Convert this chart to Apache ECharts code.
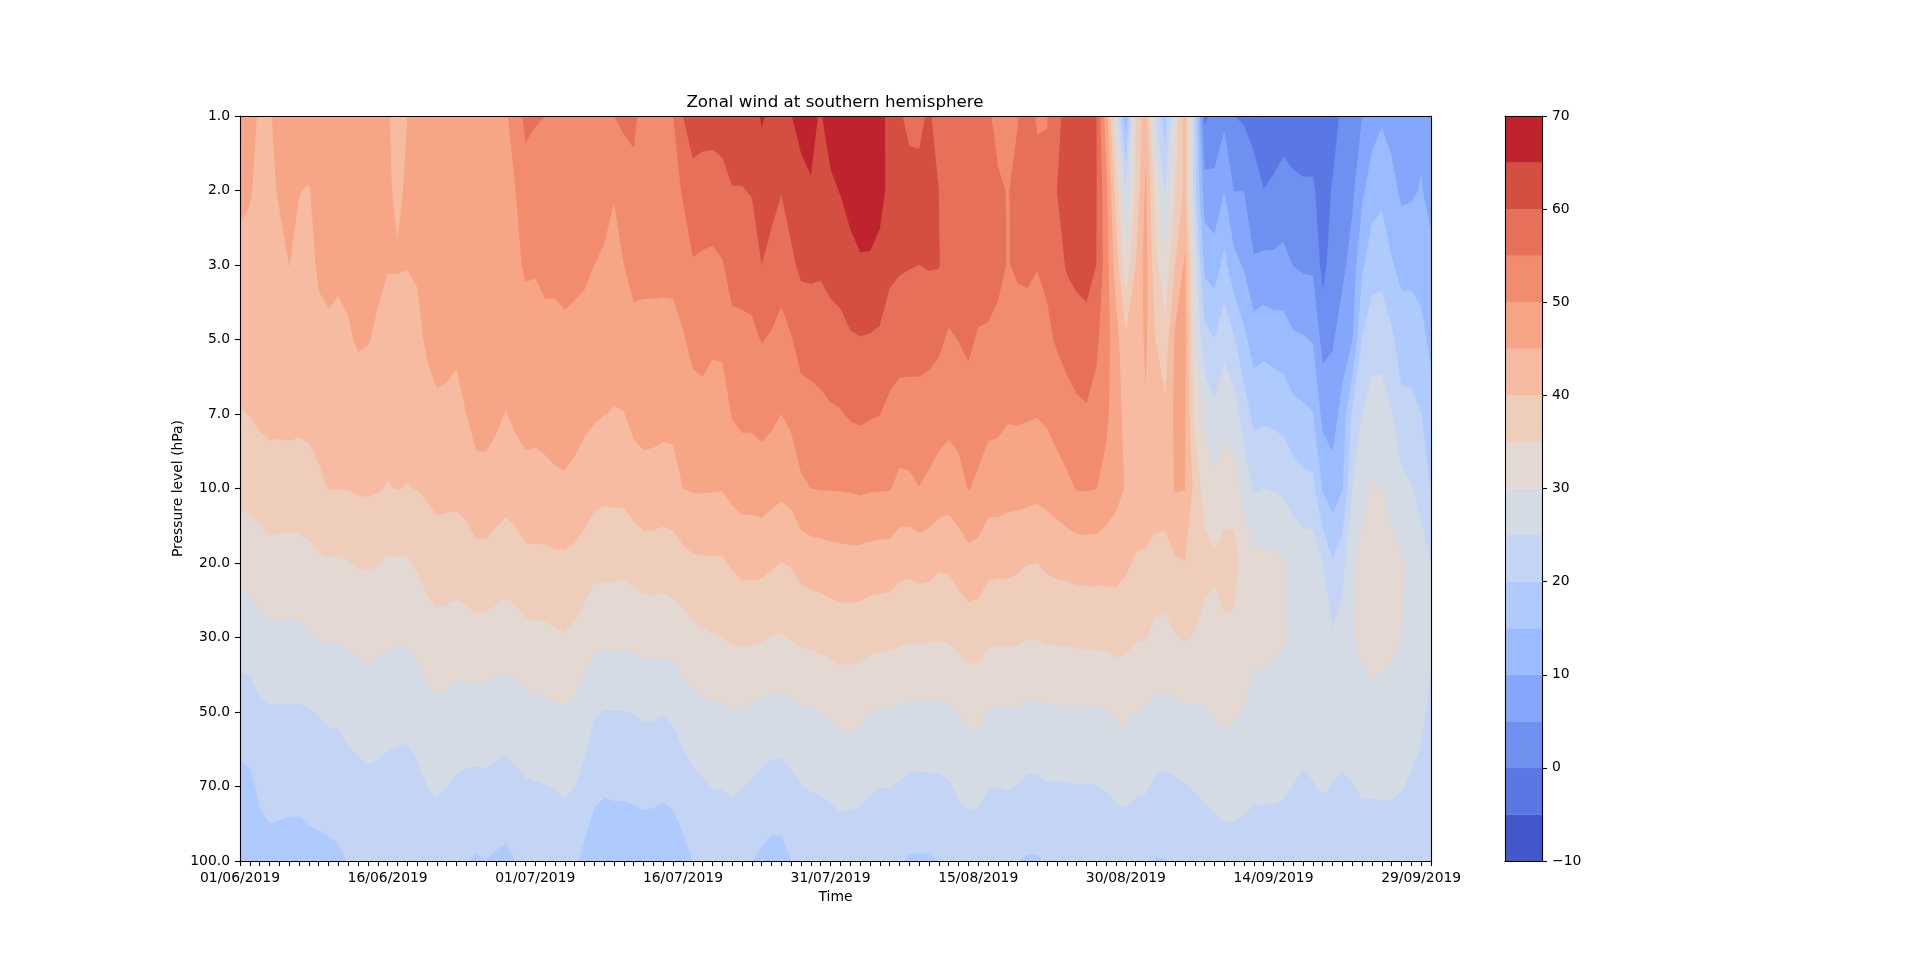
<!DOCTYPE html>
<html>
<head>
<meta charset="utf-8">
<style>html,body{margin:0;padding:0;background:#fff}#c{width:1920px;height:967px}</style>
<script src="https://cdn.jsdelivr.net/npm/echarts@6/dist/echarts.min.js"></script>
</head>
<body>
<div id="c"></div>
<script>
const pressureLabels = ['1.0','2.0','3.0','5.0','7.0','10.0','20.0','30.0','50.0','70.0','100.0'];
const contourLevels = [-10,-5,0,5,10,15,20,25,30,35,40,45,50,55,60,65,70];
const bandColors = ['#4358CB','#5A78E4','#6E90F0','#84A7FC','#9ABBFF','#AFCAFC','#C3D4F4','#D5DBE5','#E4D9D2','#EFCDBB','#F6BBA0','#F6A586','#F18C6F','#E7705A','#D44E41','#BE232E'];
const monthDays = [['06',30],['07',31],['08',31],['09',30]];

// zonal wind (m/s) per pressure level, one value per day from 01/06/2019 to 30/09/2019
const u1 = [48,46,44.6,44.7,46,47,47,47,46.5,47,
47,46.5,46,46,46,45.2,44.3,45,46,47,
47,47,47.5,48,48,48.5,49,49.6,51.5,56.5,
55.4,55,53,52.5,52.5,53,53.5,54,55,56,
55.6,54,53,53.5,55,60,62,62,62,62,
63,63,63,65.5,64,64,64.9,66.5,65.8,64.7,
67,68,69,69,69,68.5,62,60.5,59,59.2,
60.5,58.5,57.5,57.5,57,57,55.8,53.5,53.5,54.8,
57,54.5,54.8,58.8,61.5,62,62,60.3,47.5,29,
12,36,43,25,17,32,42,22,-1,1.5,
3.8,0,-0.7,-1.8,-5.1,-3.6,-2.3,-2.8,-3.1,-3,
-4.5,-2,1,3,5,7.6,9.3,8,7.5,7.8,9,7.5];
const u2 = [46,45.3,44,44.1,45.4,45.9,45.1,44.8,46.3,46.5,
46.3,46.2,46,46,46,45.3,44.6,45.3,46,47,
47.3,47,47,48.5,49,49,49.5,49.5,50,52.3,
52.7,53,52,51.8,52,52,52,51.5,50.3,52,
54.2,53,52.5,53,53,55.5,58.5,57.8,57.6,58.4,
59.8,59.8,60.3,62.4,61.5,60.2,61.8,63.5,64.8,63.8,
64.2,65.2,66.6,67.4,67.2,66.6,63.7,61,61.5,61,
61,60,58,58,58,57.5,57,55.7,54.8,56,
57.5,56.5,56,60,61.5,62,62,60.3,51.5,38,
25,35.5,46,33.5,24.7,35.5,41,22,7.3,6.5,
9.9,4.9,5,2,0.1,1,1.9,1.1,0.7,0.7,
-2.3,0.4,2.5,4,9,12.7,13.8,11.7,9,9.3,10.3,8.5];
const u3 = [43.7,43.8,43,43.3,43.8,45.05,44,43.5,45.7,46,
45.8,45.9,46,46,45.8,45.2,45.2,45.1,45.5,47,
47.3,47,47,48.5,49,49,49,49,49.2,50.5,
50.4,51,50.9,51.2,51,50.8,50,49.4,48.5,50,
51.2,51,51,51,51,52.4,54.6,54.3,54.1,54.7,
56.7,56.8,57.1,60,58.5,56.9,59.2,60.9,61,60.7,
61.4,62,63.5,64.5,64.5,63.5,61,60.5,60.2,60,
60.3,60.2,58,58,58,57.5,57,56.2,54.8,55.6,
55.8,55.2,55.8,58,60.5,61.5,62,60,52.5,42.5,
32,40,47,36.5,31.2,40,46,28.5,13.65,12.5,
16.5,11.5,9.5,5.5,6.2,6,6.4,4.9,4.3,4.2,
-1.6,2.5,3.8,7.1,14.2,17.9,18.3,15.4,13.8,13.8,13.2,11.3];
const u5 = [41.8,41.9,41.6,41.6,42.4,43.2,42.6,42.5,43.7,44.3,
43.9,44.6,45.4,45.2,44.4,43.5,43.5,43.7,43.8,45.7,
46.7,46.5,46,47.5,48.5,48.5,48,47.5,48,48.3,
48.2,48.8,48.9,49.2,48.9,48.4,47.7,47.3,46.6,47.6,
48.8,48.8,48.8,48.7,48.8,49.6,51.2,51.5,50.8,50.9,
53.6,53.8,54,55.2,54.5,53.5,54.7,56.8,57.1,57.4,
58.3,58.6,59.5,59.8,59.6,59.2,57.8,57,56.8,56.7,
56.5,55.9,54.4,55.1,55.9,54.5,54.4,53.7,52.8,53.1,
53.2,52.6,54.2,55.5,56.7,57.4,58,56,52,47,
40.8,41,46,40,37,46,47,30,22,20.1,
23.5,20.5,16.3,12.7,13.3,12.6,12.3,10.7,10.4,9.7,
3.3,4.5,7.5,9.7,20.2,23,23.2,21,17.3,17.3,16.4,13.8];
const u7 = [39.8,40.1,40.9,41.3,41.3,41.4,41.2,41.4,41.2,42.3,
42,42.4,43,42.9,42.4,41.6,41.5,41.4,42,43.2,
44.1,43.9,43.5,45,46.6,46.7,46.1,44.8,46,46,
46,46.6,46.8,46.9,46.7,46.1,45.5,45.1,44.8,44.9,
46.3,46.6,46.5,46.3,46.4,47.1,48.2,48.5,47.9,47.9,
50.3,51,51,51.5,51,50,51.1,52.9,53.3,53.8,
54.4,54.7,55.5,55.8,55.4,55.1,53.8,53.1,53.2,53.3,
52.9,52.1,51.4,52.1,52.9,52.1,51.5,51.2,50.5,50.6,
50.4,50.2,50.8,52.1,53.1,54.1,54.5,53.3,51.2,47,
43.5,42.3,44.5,42.2,41,46,45.5,33.8,28.75,26.2,
28.4,27.4,22.7,18.6,19.1,18.8,18.2,16.5,15.9,15.2,
8.5,7.7,11.8,20.7,25,27.2,27,25.2,21.6,21.5,20.1,17.3];
const u10 = [36.4,36.6,37,37.6,37.4,37.5,37.4,37.8,39.4,40.1,
40.1,40.1,40.5,40.6,40.3,39.8,40.1,39.9,40.1,40.7,
41.3,41.2,41.1,41.75,43.4,43.3,42.2,41.6,42.2,43.9,
43.8,43.7,44.2,44.4,43.7,42.5,41.6,41.1,41.3,41.4,
42.5,43.3,43.2,42.8,43,45,45.4,45.4,45.3,45.2,
46.3,47,47,47.5,46.7,46.1,46.8,49.2,50,50.2,
50.2,50.3,50.4,50.7,50.4,50.3,50.3,48.8,49,49.9,
49,47.9,47.3,48.1,50.2,49.2,47.4,47.4,46.8,46.8,
46.6,46.3,46.8,47.7,49,50.2,50.3,50.1,48.2,46.5,
44.7,43.5,43.2,43,43,45.3,45.1,38.5,33,31.5,
32.6,32.5,28.1,24.5,25,24.7,24.2,22.7,21.6,21.3,
14.6,12.3,14.7,25.1,28.6,30.5,30,28.6,26.4,25.2,23.5,19.8];
const u20 = [31.8,32,32.9,33.5,33.4,33.3,33.4,33.8,34.3,34.6,
34.5,34.9,35.3,35.4,35.2,34.5,34.6,34.5,35.5,36.8,
37.7,37.5,37.4,37.8,38.4,38.4,38,37.4,37.9,38.6,
38.7,38.8,39,39.1,38.6,37.8,36.5,36.4,36.3,36.1,
36.8,37.5,37.5,37.3,37.7,38.4,39.2,39.4,39.4,39.5,
40.5,41.3,41.3,41.2,40.5,39.9,40.3,41.7,42.2,42.4,
42.9,43.1,43.3,43.2,42.8,42.6,42.5,41.5,41.2,41.7,
41.5,40.7,40.8,42.1,43.1,42.8,41.3,41.1,41.2,40.7,
40.1,40,40.8,41.2,41.4,41.7,41.8,41.75,41.7,41.7,
40.8,39.4,39.2,38,37.7,39.4,39.9,37,36.8,35.8,
37,37,32.8,31.5,31.2,31,30.6,29,28,28,
25,20.4,23.3,29.2,31.5,33,32.5,31.5,30.5,29,27,25];
const u30 = [27,27.2,28.3,29,29,28.8,29,29.6,30.2,30.4,
30.3,30.7,31.1,31.3,31.1,30.7,30.5,30.5,31.3,32.5,
33.2,33,32.6,32.8,33.3,33.2,32.7,32.3,32.8,33.7,
33.9,34,34.3,34.7,33.9,32.6,31.2,31,31.1,31,
31.3,31.7,31.8,31.7,32,32.8,33.9,34.4,34.7,35,
35.5,35.8,35.7,35.4,34.9,34.7,35.2,35.8,36.1,36.4,
36.8,37.2,37.2,37,36.5,36.3,36.1,35.8,35.4,35.6,
35.5,35.3,35.5,36.3,37.1,37,35.9,35.7,35.8,35.6,
35.2,35.2,35.6,35.7,35.7,35.9,36.1,36.1,36.2,36.6,
36.2,35.4,35.2,33.9,33.7,34.8,35.4,34.8,33.2,33.1,
34,33.8,31.5,30.8,31,30.8,30.4,29.4,28.5,28.3,
27.5,25.6,27.3,29.6,31,31.5,31.4,30.9,30,28.8,28,25.8];
const u50 = [22.7,23,24.1,24.6,24.5,24.5,24.5,24.8,25.2,25.7,
25.8,26.6,27,27.4,27.1,26.8,26.6,26.5,27.3,28.6,
29.1,28.7,28.1,28,28,28.1,27.7,27.4,27.9,28.6,
28.8,29,29.3,29.6,29.1,27.6,25.5,24.8,24.9,24.9,
25.1,25.6,25.5,25.2,25.9,27.2,28.3,28.8,29.3,29.3,
29.7,29.6,29.2,28.8,28.4,28.2,28.7,29.5,29.7,30.1,
30.7,31.2,31.2,30.9,30,29.8,29.7,29.4,29,29,
29,29,29.3,30.1,31.1,31.1,29.7,29.6,29.7,29.5,
29,29,29.4,29.5,29.4,29.4,29.5,29.6,29.8,30.7,
30.8,29.9,29.7,28.8,28.6,28.9,29.4,29.4,29.7,30.3,
30.7,30.6,29.9,29,28.6,28.3,28,28,27,27.3,
27,26.8,27.5,28,28.2,28.7,28.5,28.3,27.6,26.5,25.9,24];
const u70 = [18.5,19,20.9,21.5,21.4,21.3,21.3,21.7,21.9,22.2,
22.4,23.1,23.6,24,23.8,23.4,23.1,23,23.8,25,
25.6,25,24.3,24,23.9,24,23.6,23.3,23.9,24.5,
24.7,24.9,25.2,25.7,25,23.4,21.2,20.6,20.8,20.8,
21,21.3,21.2,20.9,21.3,22.6,23.8,24.5,25.1,25.2,
25.6,25.2,24.5,23.7,23.1,23,23.9,24.9,25.3,25.5,
26.1,26.8,26.6,26.4,25.5,25.1,25.1,24.7,24,24,
24.1,24.2,24.6,25.8,26.7,26.5,25.2,25,25.3,24.9,
24.2,24.2,24.7,24.7,24.7,24.9,24.8,24.9,25.3,26.1,
26.4,25.7,25.5,24.3,24.1,24.4,24.8,25.3,26,26.7,
27.3,27.2,26.6,26,26,25.9,25.6,24.9,24.4,24.8,
25.4,24.9,24.4,24.8,25.7,25.7,25.8,25.8,25.2,24.6,23.8,22.5];
const u100 = [16,16.3,17.7,18.5,18.3,18.1,18.1,18.5,18.7,18.9,
19.3,20.2,20.5,20.8,20.7,20.5,20.4,20.3,20.7,21,
21.2,21,20.6,20.2,19.6,19.95,19.4,19,20,20.6,
20.8,21,21.2,21.5,20.9,18.7,17.1,16.5,16.7,16.7,
16.9,17.2,17.1,16.7,17.1,18.5,20,20.6,21,21,
21.3,20.7,20.1,19.1,18.4,18.4,20,20.6,20.8,21,
21.3,21.5,21.4,21.3,21,20.8,20.8,20.5,19.6,19.5,
19.6,20,20.4,21,21.4,21.3,20.8,20.7,20.6,20.1,
19.6,19.6,20.4,20.6,20.6,20.7,20.7,20.7,20.9,21.3,
21.4,21,20.7,19.8,19.9,20.3,20.6,21,21.5,22,
22.5,22.5,22.5,22,22,22,22,21.5,21,21.3,
21.5,21.5,21,21,21.5,21.5,21.5,21.5,21.5,21.5,21.5,21.5];

const windRows = [u1,u2,u3,u5,u7,u10,u20,u30,u50,u70,u100];
const days = [];
monthDays.forEach(function (m) {
  for (let d = 1; d <= m[1]; d++) days.push((d < 10 ? '0' : '') + d + '/' + m[0] + '/2019');
});

// keep the part of a cell polygon where the wind is at or above the level
function clipAbove(poly, level) {
  const out = [];
  for (let k = 0; k < poly.length; k++) {
    const a = poly[k], b = poly[(k + 1) % poly.length];
    const ina = a.v >= level, inb = b.v >= level;
    if (ina) out.push(a);
    if (ina !== inb) {
      const t = (level - a.v) / (b.v - a.v);
      out.push({ x: a.x + t * (b.x - a.x), y: a.y + t * (b.y - a.y), v: level });
    }
  }
  return out;
}

function renderBand(params, api) {
  const band = params.dataIndex;
  const level = contourLevels[band];
  const parts = [];
  for (let j = 0; j < windRows.length - 1; j++) {
    for (let i = 0; i < days.length - 1; i++) {
      const corners = [[i, j], [i + 1, j], [i + 1, j + 1], [i, j + 1]].map(function (c) {
        const p = api.coord(c);
        return { x: p[0], y: p[1], v: windRows[c[1]][c[0]] };
      });
      const poly = band === 0 ? corners : clipAbove(corners, level);
      if (poly.length < 3) continue;
      parts.push('M' + poly.map(function (p) { return p.x.toFixed(2) + ' ' + p.y.toFixed(2); }).join('L') + 'Z');
    }
  }
  return {
    type: 'path',
    shape: { pathData: parts.join('') },
    style: { fill: bandColors[band], stroke: null },
    silent: true
  };
}

function renderBar(params, api) {
  const b = params.dataIndex;
  const a = api.coord([0, contourLevels[b]]);
  const c = api.coord([1, contourLevels[b + 1]]);
  return {
    type: 'rect',
    shape: { x: a[0], y: c[1], width: c[0] - a[0], height: a[1] - c[1] },
    style: { fill: bandColors[b], stroke: bandColors[b], lineWidth: 0.3 },
    silent: true
  };
}

const font = 'DejaVu Sans';
const frame = { show: true, onZero: false, lineStyle: { color: '#000', width: 1.1 } };
const noLabel = { show: false };
const tick = { show: true, length: 5, lineStyle: { color: '#000', width: 1.1 } };
const lab = { color: '#000', fontFamily: font, fontSize: 13.9, margin: 10 };

const chart = echarts.init(document.getElementById('c'), null, { renderer: 'canvas' });
chart.setOption({
  animation: false,
  backgroundColor: '#fff',
  title: {
    text: 'Zonal wind at southern hemisphere',
    left: 830, top: 89, textAlign: 'center',
    textStyle: { color: '#000', fontFamily: font, fontSize: 16.7, fontWeight: 'normal' }
  },
  grid: [
    { left: 240, top: 116, width: 1191, height: 745, containLabel: false },
    { left: 1505, top: 116, width: 37, height: 745, containLabel: false }
  ],
  xAxis: [
    { type: 'category', gridIndex: 0, data: days, boundaryGap: false, position: 'bottom', z: 5,
      axisLine: frame, axisTick: Object.assign({ interval: 0 }, tick),
      axisLabel: Object.assign({ interval: 14, hideOverlap: false }, lab), splitLine: { show: false },
      name: 'Time', nameLocation: 'middle', nameGap: 29.5, nameMoveOverlap: false,
      nameTextStyle: { color: '#000', fontFamily: font, fontSize: 13.9 } },
    { type: 'category', gridIndex: 0, data: days, boundaryGap: false, position: 'top', z: 5,
      axisLine: frame, axisTick: noLabel, axisLabel: noLabel, splitLine: { show: false } },
    { type: 'value', gridIndex: 1, min: 0, max: 1, position: 'bottom', z: 5,
      axisLine: frame, axisTick: noLabel, axisLabel: noLabel, splitLine: { show: false } },
    { type: 'value', gridIndex: 1, min: 0, max: 1, position: 'top', z: 5,
      axisLine: frame, axisTick: noLabel, axisLabel: noLabel, splitLine: { show: false } }
  ],
  yAxis: [
    { type: 'category', gridIndex: 0, data: pressureLabels, inverse: true, boundaryGap: false, position: 'left', z: 5,
      axisLine: frame, axisTick: Object.assign({ interval: 0 }, tick),
      axisLabel: Object.assign({ interval: 0 }, lab), splitLine: { show: false },
      name: 'Pressure level (hPa)', nameLocation: 'middle', nameGap: 55, nameRotate: 90, nameMoveOverlap: false,
      nameTextStyle: { color: '#000', fontFamily: font, fontSize: 13.9 } },
    { type: 'category', gridIndex: 0, data: pressureLabels, inverse: true, boundaryGap: false, position: 'right', z: 5,
      axisLine: frame, axisTick: noLabel, axisLabel: noLabel, splitLine: { show: false } },
    { type: 'value', gridIndex: 1, min: -10, max: 70, interval: 10, position: 'right', z: 5,
      axisLine: frame, axisTick: tick,
      axisLabel: Object.assign({ formatter: function (v) { return String(v).replace('-', '\u2212'); } }, lab),
      splitLine: { show: false } },
    { type: 'value', gridIndex: 1, min: -10, max: 70, interval: 10, position: 'left', z: 5,
      axisLine: frame, axisTick: noLabel, axisLabel: noLabel, splitLine: { show: false } }
  ],
  series: [
    { type: 'custom', coordinateSystem: 'cartesian2d', xAxisIndex: 0, yAxisIndex: 0, z: 1,
      clip: true, silent: true, progressive: 0,
      data: bandColors.map(function (c, b) { return [b, b]; }), renderItem: renderBand },
    { type: 'custom', coordinateSystem: 'cartesian2d', xAxisIndex: 2, yAxisIndex: 2, z: 1,
      clip: true, silent: true, progressive: 0,
      data: bandColors.map(function (c, b) { return [0, contourLevels[b]]; }), renderItem: renderBar }
  ]
});
</script>
</body>
</html>
